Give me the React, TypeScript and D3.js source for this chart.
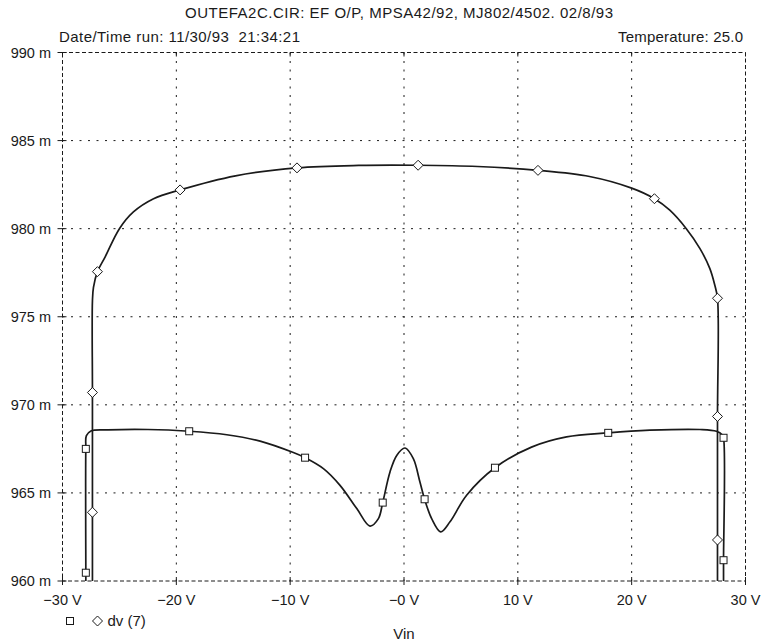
import React from "react";
import * as d3 from "d3";

const TITLE = "OUTEFA2C.CIR: EF O/P, MPSA42/92, MJ802/4502. 02/8/93";
const SUBTITLE_LEFT = "Date/Time run: 11/30/93  21:34:21";
const SUBTITLE_RIGHT = "Temperature: 25.0";
const X_LABEL = "Vin";
const LEGEND_LABEL = "dv (7)";

const X_TICKS = [-30, -20, -10, 0, 10, 20, 30];
const X_TICK_LABELS = ["\u221230 V", "\u221220 V", "\u221210 V", "\u22120 V", "10 V", "20 V", "30 V"];
const Y_TICKS = [960, 965, 970, 975, 980, 985, 990];
const Y_TICK_LABELS = ["960 m", "965 m", "970 m", "975 m", "980 m", "985 m", "990 m"];

// Upper trace (diamond markers): [Vin, value in m, marker?]
const DIAMOND_SERIES: [number, number, boolean][] = [
  [-27.37, 960, false],
  [-27.37, 963.9, true],
  [-27.37, 970.7, true],
  [-27.37, 975.9, false],
  [-27.28, 976.67, false],
  [-26.93, 977.56, true],
  [-26.25, 978.4, false],
  [-25.0, 980.0, false],
  [-23.77, 980.95, false],
  [-22.0, 981.7, false],
  [-19.67, 982.2, true],
  [-14.8, 983.0, false],
  [-9.4, 983.45, true],
  [-3.98, 983.59, false],
  [1.24, 983.6, true],
  [6.47, 983.53, false],
  [11.77, 983.31, true],
  [16.3, 982.96, false],
  [20.0, 982.3, false],
  [22.0, 981.7, true],
  [23.35, 981.05, false],
  [24.8, 980.0, false],
  [26.0, 978.87, false],
  [26.87, 977.73, false],
  [27.3, 976.8, false],
  [27.54, 976.05, true],
  [27.54, 969.34, true],
  [27.54, 962.33, true],
  [27.54, 960, false],
];

// Lower trace (square markers)
const SQUARE_SERIES: [number, number, boolean][] = [
  [-27.95, 960, false],
  [-27.95, 960.47, true],
  [-27.95, 967.5, true],
  [-27.9, 968.25, false],
  [-27.5, 968.52, false],
  [-26.0, 968.58, false],
  [-22.5, 968.6, false],
  [-18.87, 968.5, true],
  [-15.57, 968.3, false],
  [-12.64, 967.94, false],
  [-9.72, 967.29, false],
  [-8.69, 967.0, true],
  [-7.08, 966.38, false],
  [-5.62, 965.43, false],
  [-4.15, 964.11, false],
  [-2.99, 963.12, false],
  [-2.25, 963.54, false],
  [-1.87, 964.45, true],
  [-1.23, 966.19, false],
  [-0.64, 967.13, false],
  [0.09, 967.55, false],
  [0.82, 966.94, false],
  [1.4, 965.62, false],
  [1.81, 964.64, true],
  [2.43, 963.54, false],
  [3.22, 962.79, false],
  [4.04, 963.36, false],
  [5.5, 964.87, false],
  [7.99, 966.43, true],
  [11.2, 967.6, false],
  [14.28, 968.18, false],
  [17.94, 968.41, true],
  [21.6, 968.56, false],
  [26.0, 968.6, false],
  [27.45, 968.5, false],
  [27.95, 968.3, false],
  [28.07, 968.13, true],
  [28.07, 961.18, true],
  [28.07, 960, false],
];

const W = 763;
const H = 642;
const FONT = "'Liberation Sans', Arial, Helvetica, sans-serif";
const INK = "#1a1a1a";

export default function App() {
  const left = 62.5;
  const right = 745.5;
  const top = 52.5;
  const bottom = 581;
  const x = d3.scaleLinear().domain([-30, 30]).range([left, right]);
  const y = d3.scaleLinear().domain([960, 990]).range([bottom, top]);

  const line = d3
    .line<[number, number, boolean]>()
    .x((d) => x(d[0]))
    .y((d) => y(d[1]))
    .curve(d3.curveCatmullRom.alpha(0.5));

  const sq = 7;
  const dm = 5;
  const diamondPath = (cx: number, cy: number) =>
    `M${cx},${cy - dm}L${cx + dm},${cy}L${cx},${cy + dm}L${cx - dm},${cy}Z`;

  return (
    <svg
      width={W}
      height={H}
      viewBox={`0 0 ${W} ${H}`}
      style={{ position: "absolute", left: 0, top: 0, background: "#fff" }}
      fontFamily={FONT}
    >
      <rect x={0} y={0} width={W} height={H} fill="#fff" />
      {/* Title */}
      <text x={185} y={18} fontSize={15} textLength={428} lengthAdjust="spacing" fill={INK}>
        {TITLE}
      </text>
      <text
        x={59}
        y={42}
        fontSize={15}
        textLength={241}
        lengthAdjust="spacing"
        fill={INK}
        style={{ whiteSpace: "pre" }}
        xmlSpace="preserve"
      >
        {SUBTITLE_LEFT}
      </text>
      <text x={618} y={42} fontSize={15} textLength={125} lengthAdjust="spacing" fill={INK}>
        {SUBTITLE_RIGHT}
      </text>

      {/* Grid */}
      {X_TICKS.slice(1, -1).map((t) => (
        <line
          key={"gx" + t}
          x1={x(t)}
          x2={x(t)}
          y1={top}
          y2={bottom}
          stroke={INK}
          strokeWidth={1}
          strokeDasharray="2,6.5"
        />
      ))}
      {Y_TICKS.slice(1, -1).map((t) => (
        <line
          key={"gy" + t}
          x1={left}
          x2={right}
          y1={y(t)}
          y2={y(t)}
          stroke={INK}
          strokeWidth={1}
          strokeDasharray="2,6.5"
        />
      ))}

      {/* Frame */}
      <rect
        x={left}
        y={top}
        width={right - left}
        height={bottom - top}
        fill="none"
        stroke={INK}
        strokeWidth={1}
        strokeDasharray="4,2.5"
      />

      {/* Ticks */}
      {X_TICKS.map((t) => (
        <g key={"tx" + t}>
          <line x1={x(t)} x2={x(t)} y1={bottom - 4} y2={bottom + 4} stroke={INK} strokeWidth={1} />
          <line x1={x(t)} x2={x(t)} y1={top} y2={top + 4} stroke={INK} strokeWidth={1} />
        </g>
      ))}
      {Y_TICKS.map((t) => (
        <line key={"ty" + t} x1={left - 5} x2={left + 4} y1={y(t)} y2={y(t)} stroke={INK} strokeWidth={1} />
      ))}

      {/* Tick labels */}
      {X_TICKS.map((t, i) => (
        <text key={"lx" + t} x={x(t)} y={605} fontSize={14.5} textAnchor="middle" fill={INK}>
          {X_TICK_LABELS[i]}
        </text>
      ))}
      {Y_TICKS.map((t, i) => (
        <text key={"ly" + t} x={51} y={y(t) + 5} fontSize={14.5} textAnchor="end" fill={INK}>
          {Y_TICK_LABELS[i]}
        </text>
      ))}

      {/* Curves */}
      <path d={line(DIAMOND_SERIES) || ""} fill="none" stroke={INK} strokeWidth={1.7} />
      <path d={line(SQUARE_SERIES) || ""} fill="none" stroke={INK} strokeWidth={1.7} />

      {/* Markers */}
      {SQUARE_SERIES.filter((d) => d[2]).map((d, i) => (
        <rect
          key={"sq" + i}
          x={x(d[0]) - sq / 2}
          y={y(d[1]) - sq / 2}
          width={sq}
          height={sq}
          fill="#fff"
          stroke={INK}
          strokeWidth={1}
        />
      ))}
      {DIAMOND_SERIES.filter((d) => d[2]).map((d, i) => (
        <path key={"dm" + i} d={diamondPath(x(d[0]), y(d[1]))} fill="#fff" stroke={INK} strokeWidth={1} />
      ))}

      {/* Legend */}
      <rect x={70 - sq / 2} y={621 - sq / 2} width={sq} height={sq} fill="#fff" stroke={INK} strokeWidth={1} />
      <path d={diamondPath(97.5, 621)} fill="#fff" stroke={INK} strokeWidth={1} />
      <text x={107.5} y={626} fontSize={15} fill={INK}>
        {LEGEND_LABEL}
      </text>

      {/* Axis label */}
      <text x={404} y={639} fontSize={15} textAnchor="middle" fill={INK}>
        {X_LABEL}
      </text>
    </svg>
  );
}
